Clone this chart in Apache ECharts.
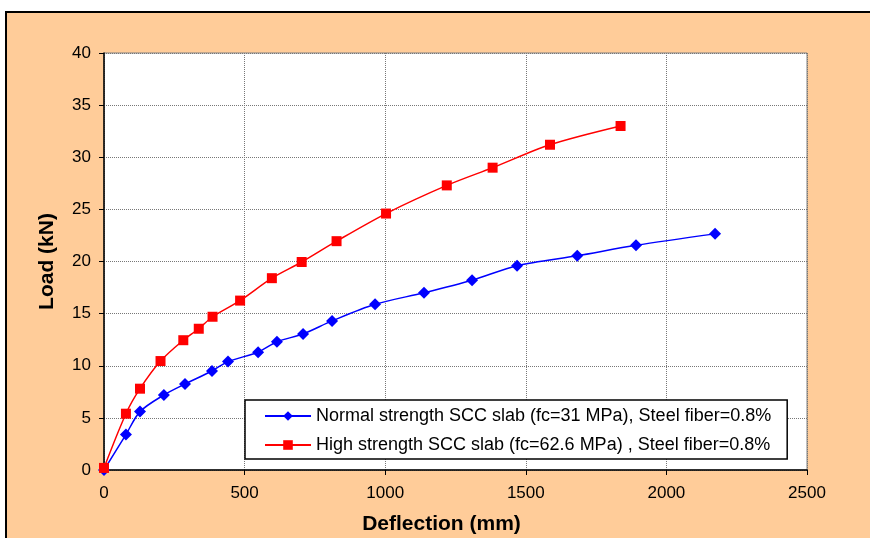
<!DOCTYPE html>
<html>
<head>
<meta charset="utf-8">
<script src="https://cdn.jsdelivr.net/npm/echarts@6/dist/echarts.min.js"></script>
<style>
  html, body { margin: 0; padding: 0; background: #fff; overflow: hidden; }
  #frame { position: absolute; left: 5px; top: 11px; width: 880px; height: 540px;
           background: #FFCC99; border: 2px solid #000; box-sizing: border-box; }
  #chart { position: absolute; left: 0; top: 0; width: 870px; height: 538px; }
</style>
</head>
<body>
<div id="frame"></div>
<div id="chart"></div>
<script>
// Normal strength SCC slab (fc=31 MPa)
const normalDefl = [0, 78, 128, 213, 288, 384, 441, 548, 615, 708, 811, 964, 1138, 1309, 1469, 1683, 1892, 2173];
const normalLoad = [0, 3.4, 5.6, 7.2, 8.25, 9.5, 10.4, 11.3, 12.3, 13.05, 14.3, 15.9, 17.0, 18.2, 19.6, 20.55, 21.55, 22.65];
// High strength SCC slab (fc=62.6 MPa)
const highDefl = [0, 78, 128, 201, 282, 337, 386, 484, 597, 703, 827, 1003, 1219, 1382, 1586, 1837];
const highLoad = [0.2, 5.4, 7.8, 10.45, 12.45, 13.55, 14.7, 16.25, 18.4, 19.95, 21.95, 24.6, 27.3, 29.0, 31.2, 33.0];

const seriesNames = [
  'Normal strength SCC slab (fc=31 MPa), Steel fiber=0.8%',
  'High strength SCC slab (fc=62.6 MPa) , Steel fiber=0.8%'
];

const zip = (xs, ys) => xs.map((x, i) => [x, ys[i]]);

const chart = echarts.init(document.getElementById('chart'));
const font = 'Liberation Sans, Arial, sans-serif';

chart.setOption({
  backgroundColor: 'transparent',
  animation: false,
  grid: {
    left: 104, top: 53, right: 63, bottom: 68,
    outerBoundsMode: 'none', containLabel: false,
    show: true, backgroundColor: '#fff', borderColor: '#808080', borderWidth: 1
  },
  legend: {
    orient: 'vertical',
    left: 245, top: 400,
    padding: [7, 16, 5, 19],
    itemGap: 11,
    itemWidth: 46, itemHeight: 12,
    backgroundColor: '#fff',
    borderColor: '#000', borderWidth: 1.5,
    textStyle: { fontFamily: font, fontSize: 18, color: '#000' },
    data: seriesNames
  },
  xAxis: {
    type: 'value', min: 0, max: 2500, interval: 500,
    name: 'Deflection (mm)', nameLocation: 'middle', nameGap: 44,
    nameTextStyle: { fontFamily: font, fontSize: 21, fontWeight: 'bold', color: '#000', padding: [0, 28, 0, 0] },
    axisLine: { lineStyle: { color: '#000', width: 1.5 } },
    axisTick: { show: true, length: 5, lineStyle: { color: '#000' } },
    axisLabel: { fontFamily: font, fontSize: 17, color: '#000', margin: 15, formatter: v => String(v) },
    splitLine: { show: true, lineStyle: { color: '#777', type: 'dotted', width: 1 } }
  },
  yAxis: {
    type: 'value', min: 0, max: 40, interval: 5,
    name: 'Load (kN)', nameLocation: 'middle', nameGap: 46, nameRotate: 90,
    nameTextStyle: { fontFamily: font, fontSize: 21, fontWeight: 'bold', color: '#000' },
    axisLine: { show: true, lineStyle: { color: '#000', width: 1.5 } },
    axisTick: { show: true, length: 5, lineStyle: { color: '#000' } },
    axisLabel: { fontFamily: font, fontSize: 17, color: '#000', margin: 13 },
    splitLine: { show: true, lineStyle: { color: '#777', type: 'dotted', width: 1 } }
  },
  series: [
    {
      name: seriesNames[0], type: 'line', smooth: 0.3,
      symbol: 'diamond', symbolSize: 12,
      itemStyle: { color: '#0000FF' },
      lineStyle: { color: '#0000FF', width: 1.5 },
      data: zip(normalDefl, normalLoad)
    },
    {
      name: seriesNames[1], type: 'line', smooth: 0.3,
      symbol: 'rect', symbolSize: 10,
      itemStyle: { color: '#FF0000' },
      lineStyle: { color: '#FF0000', width: 1.5 },
      data: zip(highDefl, highLoad)
    }
  ]
});
</script>
</body>
</html>
